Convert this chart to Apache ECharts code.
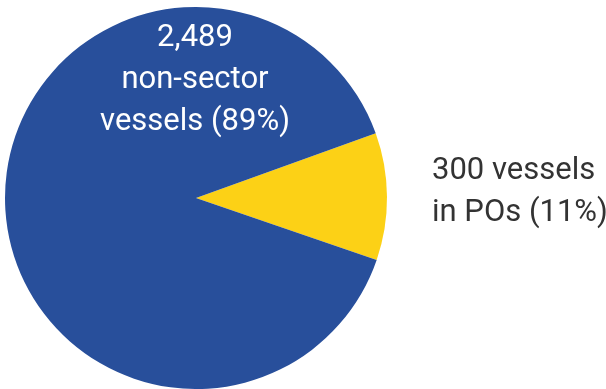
<!DOCTYPE html>
<html><head><meta charset="utf-8">
<script src="https://cdn.jsdelivr.net/npm/echarts@6/dist/echarts.min.js"></script>
<style>html,body{margin:0;padding:0;background:#fff}#c{width:606px;height:389px}</style>
</head><body><div id="c"></div>
<script>
const categories = ['in POs', 'non-sector'];
const values = [300, 2489];
const labels = ['300 vessels\nin POs (11%)', '2,489\nnon-sector\nvessels (89%)'];
const colors = ['#fcd116', '#284f9b'];

const chart = echarts.init(document.getElementById('c'));
chart.setOption({
  animation: false,
  series: [{
    type: 'pie',
    center: [196, 198],
    radius: [0, 191],
    startAngle: 19.8,
    clockwise: true,
    avoidLabelOverlap: false,
    data: [
      { name: categories[0], value: values[0], itemStyle: { color: colors[0] },
        label: { show: true, position: 'outside', formatter: labels[0], color: '#333', fontFamily: 'Roboto', fontSize: 31, lineHeight: 42, align: 'left', offset: [0, -4] },
        labelLine: { show: false, length: 15, length2: 25 } },
      { name: categories[1], value: values[1], itemStyle: { color: colors[1] },
        label: { show: true, position: 'center', formatter: labels[1], color: '#fff', fontFamily: 'Roboto', fontSize: 31, lineHeight: 42, align: 'center', offset: [-1, -118] },
        labelLine: { show: false } }
    ],
    emphasis: { disabled: true }
  }]
});
</script></body></html>
